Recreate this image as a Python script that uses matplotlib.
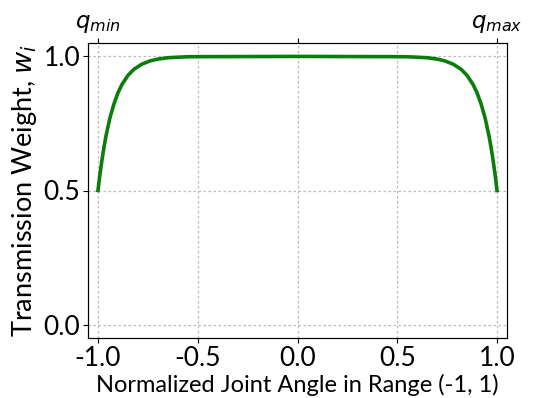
import matplotlib
matplotlib.use("Agg")
import matplotlib.pyplot as plt

plt.rcParams['font.family'] = ['Lato', 'DejaVu Sans']

# joint angle distance (left half, mirrored on right)
x_left = [-1.0, -0.99, -0.98, -0.97, -0.96, -0.94, -0.92, -0.90, -0.88, -0.85,
          -0.82, -0.78, -0.74, -0.70, -0.65, -0.60, -0.55, -0.50]
w_left = [0.500, 0.561, 0.614, 0.661, 0.703, 0.771, 0.823, 0.864, 0.895, 0.929,
          0.952, 0.971, 0.983, 0.990, 0.995, 0.997, 0.9986, 0.999]
x_mid = [0.0]
w_mid = [1.0]

x_vals = x_left + x_mid + [-v for v in reversed(x_left)]
w_vals = w_left + w_mid + list(reversed(w_left))

x_ticks = [-1.0, -0.5, 0.0, 0.5, 1.0]
y_ticks = [0.0, 0.5, 1.0]
top_ticks = [-1.0, 0.0, 1.0]
top_labels = ['$q_{min}$', '', '$q_{max}$']

fig = plt.figure(figsize=(5.36, 3.98), dpi=100)
ax = fig.add_axes([88/536, 1-338/398, (507-88)/536, (338-43)/398])
ax.plot(x_vals, w_vals, color='#0a7d0a', lw=2.6)
ax.set_xlim(-1.05, 1.05)
ax.set_ylim(-0.05, 1.05)
ax.set_xticks(x_ticks)
ax.set_xticklabels([f"{v:.1f}" for v in x_ticks])
ax.set_yticks(y_ticks)
ax.set_yticklabels([f"{v:.1f}" for v in y_ticks])
ax.tick_params(labelsize=19, pad=2)
ax.grid(True, linestyle=(0, (2, 2)), color='#bbbbbb', lw=0.9)
ax.set_xlabel('Normalized Joint Angle in Range (-1, 1)', fontsize=17, labelpad=2)
ax.set_ylabel('Transmission Weight, $w_i$', fontsize=19.5, labelpad=3)
for s in ax.spines.values():
    s.set_color('#333333')

ax2 = ax.twiny()
ax2.set_xlim(ax.get_xlim())
ax2.set_xticks(top_ticks)
ax2.set_xticklabels(top_labels, fontsize=16.5)
ax2.tick_params(pad=2)

fig.savefig('out.png', dpi=100)
